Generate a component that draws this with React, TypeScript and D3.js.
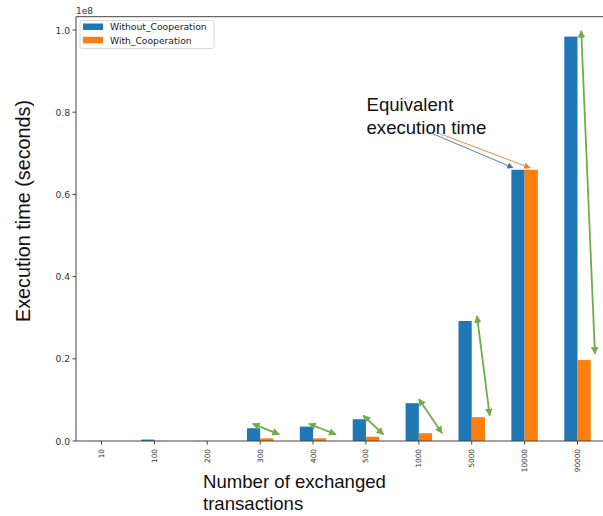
import React from 'react';
import * as d3 from 'd3';

const categories = ['10', '100', '200', '300', '400', '500', '1000', '5000', '10000', '90000'];
const withoutCoop = [0.02e6, 0.35e6, 0.03e6, 3.1e6, 3.5e6, 5.3e6, 9.2e6, 29.2e6, 66.0e6, 98.4e6];
const withCoop = [0.01e6, 0.03e6, 0.01e6, 0.65e6, 0.65e6, 1.05e6, 1.9e6, 5.8e6, 66.0e6, 19.7e6];
const yTicks = [0, 0.2e8, 0.4e8, 0.6e8, 0.8e8, 1.0e8];
const yTickLabels = ['0.0', '0.2', '0.4', '0.6', '0.8', '1.0'];
const seriesNames = ['Without_Cooperation', 'With_Cooperation'];
const seriesColors = ['#1f77b4', '#ff7f0e'];

// green double-headed comparison arrows (category, offsets in category units, values)
const arrowCats = ['300', '400', '500', '1000', '5000', '90000'];
const arrowX0 = [-0.14, -0.08, -0.05, 0.0, 0.1, 0.07];
const arrowY0 = [4.2e6, 4.2e6, 6.2e6, 10.2e6, 30.4e6, 99.8e6];
const arrowX1 = [0.36, 0.43, 0.33, 0.44, 0.34, 0.33];
const arrowY1 = [1.6e6, 1.6e6, 1.6e6, 1.9e6, 6.2e6, 21.2e6];

const annotationLines = ['Equivalent', 'execution time'];
const xLabelLines = ['Number of exchanged', 'transactions'];
const yLabel = 'Execution time (seconds)';

const W = 603;
const H = 516;
const left = 76;
const right = 606;
const top = 16.7;
const bottom = 441;
const barW = 0.25;

export default function App() {
  const x = d3.scaleLinear().domain([0, 9]).range([101.5, 577.5]);
  const y = d3.scaleLinear().domain([0, 1e8]).range([bottom, 30]);
  const idx = (c: string) => categories.indexOf(c);
  const green = '#70AD47';
  const mpl = 'DejaVu Sans, sans-serif';
  const arial = 'Liberation Sans, Arial, sans-serif';
  const annotCat = idx('10000');

  return (
    <svg width={W} height={H} style={{ position: 'absolute', left: 0, top: 0, background: '#fff' }}>
      <defs>
        <marker id="gArrow" viewBox="0 0 10 10" refX="9" refY="5" markerWidth="4.2" markerHeight="4.2" orient="auto-start-reverse" markerUnits="strokeWidth">
          <path d="M0,0 L10,5 L0,10 z" fill={green} />
        </marker>
        <marker id="bArrow" viewBox="0 0 10 10" refX="9" refY="5" markerWidth="7" markerHeight="7" orient="auto" markerUnits="strokeWidth">
          <path d="M0,0 L10,5 L0,10 z" fill="#4472C4" />
        </marker>
        <marker id="oArrow" viewBox="0 0 10 10" refX="9" refY="5" markerWidth="7" markerHeight="7" orient="auto" markerUnits="strokeWidth">
          <path d="M0,0 L10,5 L0,10 z" fill="#ED7D31" />
        </marker>
        <clipPath id="frame">
          <rect x={0} y={0} width={W} height={H} />
        </clipPath>
      </defs>

      {/* bars */}
      {categories.map((c, i) => (
        <g key={c}>
          <rect x={x(i - barW)} y={y(withoutCoop[i])} width={x(barW) - x(0)} height={bottom - y(withoutCoop[i])} fill={seriesColors[0]} />
          <rect x={x(i)} y={y(withCoop[i])} width={x(barW) - x(0)} height={bottom - y(withCoop[i])} fill={seriesColors[1]} />
        </g>
      ))}

      {/* spines */}
      <line x1={left} x2={left} y1={top} y2={bottom} stroke="#444" strokeWidth={1} />
      <line x1={left} x2={right} y1={bottom} y2={bottom} stroke="#444" strokeWidth={1} />
      <line x1={left} x2={right} y1={top} y2={top} stroke="#444" strokeWidth={1} />

      {/* y ticks */}
      {yTicks.map((t, i) => (
        <g key={t}>
          <line x1={left - 3.5} x2={left} y1={y(t)} y2={y(t)} stroke="#444" />
          <text x={left - 6} y={y(t)} textAnchor="end" dominantBaseline="central" fontSize={9.2} fontFamily={mpl} fill="#333">
            {yTickLabels[i]}
          </text>
        </g>
      ))}
      <text x={left} y={13.5} fontSize={9} fontFamily={mpl} fill="#333">1e8</text>

      {/* x ticks */}
      {categories.map((c, i) => (
        <g key={c}>
          <line x1={x(i)} x2={x(i)} y1={bottom} y2={bottom + 3.5} stroke="#444" />
          <text transform={`translate(${x(i)},${bottom + 8}) rotate(-90)`} textAnchor="end" dominantBaseline="central" fontSize={7.3} fontFamily={mpl} fill="#333">
            {c}
          </text>
        </g>
      ))}

      {/* green arrows */}
      {arrowCats.map((c, k) => {
        const i = idx(c);
        return (
          <line key={c} x1={x(i + arrowX0[k])} y1={y(arrowY0[k])} x2={x(i + arrowX1[k])} y2={y(arrowY1[k])}
            stroke={green} strokeWidth={1.8} markerStart="url(#gArrow)" markerEnd="url(#gArrow)" />
        );
      })}

      {/* equivalent annotation */}
      {annotationLines.map((t, i) => (
        <text key={t} x={366.5} y={111 + i * 22.5} fontSize={18.6} fontFamily={arial} fill="#111">{t}</text>
      ))}
      <line x1={431} y1={133} x2={x(annotCat - 0.22)} y2={y(withoutCoop[annotCat]) - 2} stroke="#4472C4" strokeWidth={0.9} markerEnd="url(#bArrow)" />
      <line x1={438} y1={133} x2={x(annotCat + 0.1)} y2={y(withCoop[annotCat]) - 2} stroke="#ED7D31" strokeWidth={0.9} markerEnd="url(#oArrow)" />

      {/* legend */}
      <rect x={80} y={20.5} width={134} height={28} rx={2} fill="#fff" fillOpacity={0.85} stroke="#d0d0d0" strokeWidth={0.8} />
      {seriesNames.map((n, i) => (
        <g key={n}>
          <rect x={83} y={23.5 + i * 13.3} width={20} height={6.5} fill={seriesColors[i]} />
          <text x={110} y={26.8 + i * 13.3} dominantBaseline="central" fontSize={9.2} fontFamily={mpl} fill="#222">{n}</text>
        </g>
      ))}

      {/* axis labels */}
      <text transform={`translate(23,211) rotate(-90)`} textAnchor="middle" dominantBaseline="central" fontSize={19.8} fontFamily={arial} fill="#111">
        {yLabel}
      </text>
      {xLabelLines.map((t, i) => (
        <text key={t} x={203} y={488 + i * 22} fontSize={18.6} fontFamily={arial} fill="#111">{t}</text>
      ))}
    </svg>
  );
}
